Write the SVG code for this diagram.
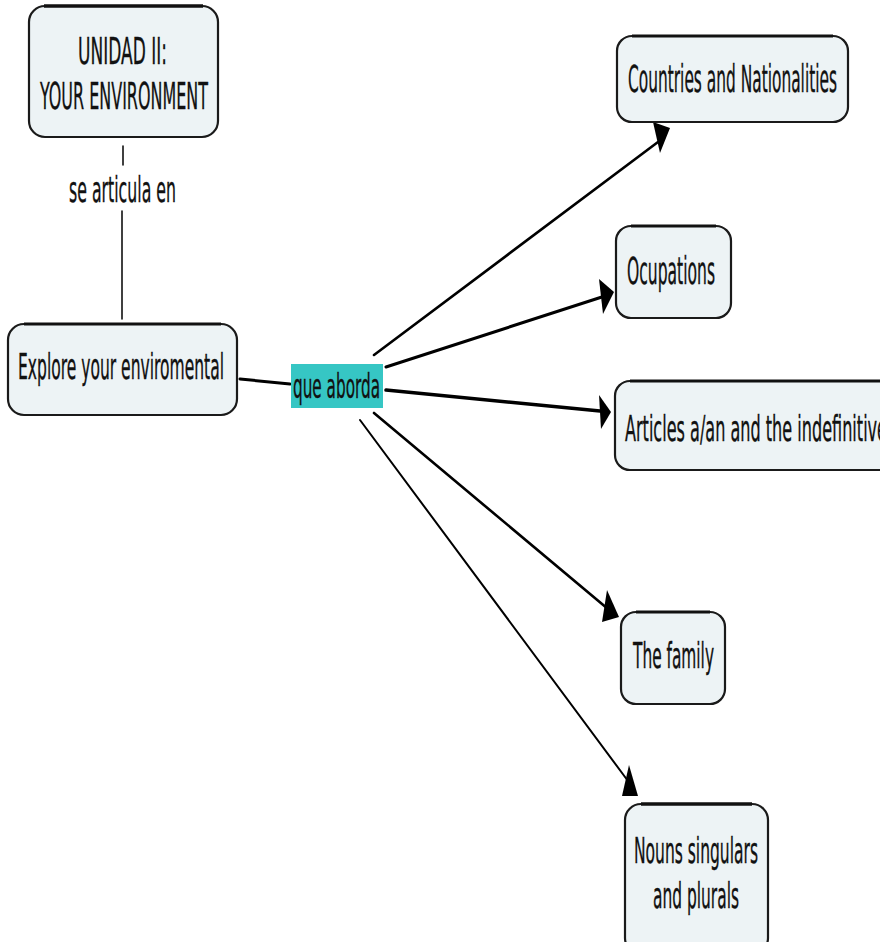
<svg xmlns="http://www.w3.org/2000/svg" width="880" height="942" viewBox="0 0 880 942">
<style>
.box{fill:#edf3f5;stroke:#1a1a1a;stroke-width:2.2}
.t{font-family:"DejaVu Sans Condensed","DejaVu Sans",sans-serif;font-stretch:condensed;fill:#111;stroke:#111;stroke-width:0.35;text-anchor:start}
.ln{stroke:#000;fill:none;stroke-linecap:round}
.ah{fill:#000}
</style>
<rect width="880" height="942" fill="#fff"/>
<g id="connectors">
<line class="ln" x1="123" y1="146" x2="123" y2="165" stroke-width="1.5"/>
<line class="ln" x1="122" y1="211" x2="122" y2="319" stroke-width="1.5"/>
<line class="ln" x1="240" y1="379" x2="290" y2="384" stroke-width="3"/>
<line class="ln" x1="374" y1="355" x2="662" y2="139" stroke-width="2.6"/>
<polygon class="ah" points="653,122 670,128 660,153"/>
<line class="ln" x1="386" y1="367" x2="605" y2="296" stroke-width="3"/>
<polygon class="ah" points="599,279 614,292 603,314"/>
<line class="ln" x1="386" y1="390" x2="600" y2="411" stroke-width="3.5"/>
<polygon class="ah" points="599,395 611,412 601,429"/>
<line class="ln" x1="374" y1="413" x2="608" y2="609" stroke-width="2.6"/>
<polygon class="ah" points="607,590 619,617 602,622"/>
<line class="ln" x1="360" y1="420" x2="628" y2="781" stroke-width="2"/>
<polygon class="ah" points="629,765 638,796 622,796"/>
</g>
<g id="n-unidad">
<rect class="box" x="29" y="6" width="189" height="131" rx="16"/>
<path d="M44,6 H203" stroke="#111" stroke-width="3.5"/>
<text class="t" x="78" y="64" font-size="38" textLength="89" lengthAdjust="spacingAndGlyphs">UNIDAD II:</text>
<text class="t" x="40" y="109" font-size="38" textLength="168" lengthAdjust="spacingAndGlyphs">YOUR ENVIRONMENT</text>
</g>
<g id="l-se-articula">
<text class="t" x="69" y="202" font-size="36" textLength="107" lengthAdjust="spacingAndGlyphs">se articula en</text>
</g>
<g id="n-explore">
<rect class="box" x="8" y="324" width="229" height="91" rx="16"/>
<path d="M24,324 H221" stroke="#111" stroke-width="3"/>
<text class="t" x="18" y="379" font-size="35" textLength="206" lengthAdjust="spacingAndGlyphs">Explore your enviromental</text>
</g>
<g id="l-que-aborda">
<rect x="291" y="364" width="92" height="44" fill="#36c6c4"/>
<text class="t" x="293" y="398" font-size="34" textLength="87" lengthAdjust="spacingAndGlyphs">que aborda</text>
</g>
<g id="n-countries">
<rect class="box" x="617" y="36" width="231" height="86" rx="15"/>
<path d="M632,36 H833" stroke="#111" stroke-width="3"/>
<text class="t" x="628" y="92" font-size="37" textLength="209" lengthAdjust="spacingAndGlyphs">Countries and Nationalities</text>
</g>
<g id="n-ocupations">
<rect class="box" x="616" y="226" width="115" height="92" rx="15"/>
<path d="M631,226 H716" stroke="#111" stroke-width="3"/>
<text class="t" x="627" y="284" font-size="37" textLength="88" lengthAdjust="spacingAndGlyphs">Ocupations</text>
</g>
<g id="n-articles">
<rect class="box" x="615" y="381" width="290" height="89" rx="15"/>
<path d="M630,381 H900" stroke="#111" stroke-width="3"/>
<text class="t" x="625" y="441" font-size="36" textLength="262" lengthAdjust="spacingAndGlyphs">Articles a/an and the indefinitive</text>
</g>
<g id="n-family">
<rect class="box" x="621" y="612" width="104" height="92" rx="15"/>
<path d="M636,612 H710" stroke="#111" stroke-width="3"/>
<text class="t" x="633" y="668" font-size="36" textLength="81" lengthAdjust="spacingAndGlyphs">The family</text>
</g>
<g id="n-nouns">
<rect class="box" x="625" y="804" width="143" height="150" rx="16"/>
<path d="M641,804 H752" stroke="#111" stroke-width="3.5"/>
<text class="t" x="634" y="863" font-size="36" textLength="124" lengthAdjust="spacingAndGlyphs">Nouns singulars</text>
<text class="t" x="653" y="908" font-size="36" textLength="86" lengthAdjust="spacingAndGlyphs">and plurals</text>
</g>
</svg>
